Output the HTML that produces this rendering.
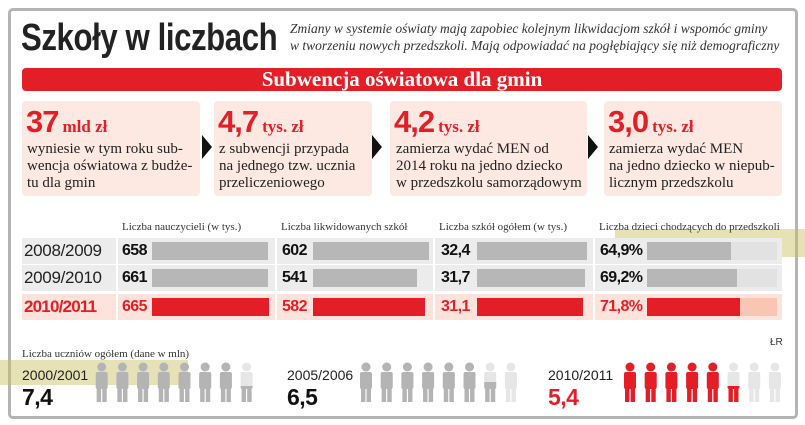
<!DOCTYPE html>
<html><head><meta charset="utf-8">
<style>
*{margin:0;padding:0;box-sizing:border-box}
body{width:805px;height:425px;background:#fff;position:relative;overflow:hidden;font-family:"Liberation Sans",sans-serif}
.a{position:absolute;white-space:nowrap}
.frame{left:8px;top:8px;width:790px;height:411px;border:3px solid #b4b4b4;border-radius:5px}
.box{background:#fde9e1;border-radius:4px;top:101px;height:95px}
.big{font-family:"Liberation Sans",sans-serif;font-weight:bold;color:#e41e26;font-size:31px;letter-spacing:-1px}
.unit{font-family:"Liberation Serif",serif;font-weight:bold;font-size:17px;color:#e41e26;letter-spacing:0;margin-left:4px}
.txt{font-family:"Liberation Serif",serif;font-size:15px;line-height:17px;color:#222}
.hdr{font-family:"Liberation Serif",serif;font-size:11px;color:#333}
.arrow{width:0;height:0;border-top:12px solid transparent;border-bottom:12px solid transparent;border-left:10px solid #111}
</style></head><body>
<div class="a frame"></div>
<div class="a" style="left:21px;top:17px;font-size:38px;font-weight:bold;color:#222;transform:scaleX(0.82);transform-origin:left top;letter-spacing:-0.5px">Szkoły w liczbach</div>
<div class="a" style="left:290px;top:20px;font-family:'Liberation Serif',serif;font-style:italic;font-size:13.5px;line-height:17px;color:#333">Zmiany w systemie oświaty mają zapobiec kolejnym likwidacjom szkół i wspomóc gminy<br>w tworzeniu nowych przedszkoli. Mają odpowiadać na pogłębiający się niż demograficzny</div>
<div class="a" style="left:22px;top:68px;width:760px;height:23px;background:#e41e26;border-radius:4px;color:#fff;font-family:'Liberation Serif',serif;font-weight:bold;font-size:21px;line-height:23px;text-align:center">Subwencja oświatowa dla gmin</div>

<div class="a box" style="left:22px;width:178px"></div>
<div class="a box" style="left:214px;width:158px"></div>
<div class="a box" style="left:390px;width:197px"></div>
<div class="a box" style="left:604px;width:178px"></div>
<div class="a arrow" style="left:202px;top:135px"></div>
<div class="a arrow" style="left:372px;top:135px"></div>
<div class="a arrow" style="left:588px;top:135px"></div>

<div class="a big" style="left:26px;top:104px">37<span class="unit">mld zł</span></div>
<div class="a txt" style="left:27px;top:141px">wyniesie w tym roku sub-<br>wencja oświatowa z budże-<br>tu dla gmin</div>
<div class="a big" style="left:218px;top:104px">4,7<span class="unit">tys. zł</span></div>
<div class="a txt" style="left:219px;top:141px">z subwencji przypada<br>na jednego tzw. ucznia<br>przeliczeniowego</div>
<div class="a big" style="left:394px;top:104px">4,2<span class="unit">tys. zł</span></div>
<div class="a txt" style="left:396px;top:141px">zamierza wydać MEN od<br>2014 roku na jedno dziecko<br>w przedszkolu samorządowym</div>
<div class="a big" style="left:608px;top:104px">3,0<span class="unit">tys. zł</span></div>
<div class="a txt" style="left:609px;top:141px">zamierza wydać MEN<br>na jedno dziecko w niepub-<br>licznym przedszkolu</div>

<div id="table"></div>
<div id="people"></div>

<div class="a hdr" style="left:22px;top:348px">Liczba uczniów ogółem (dane w mln)</div>
<div class="a hdr" style="left:770px;top:337px;font-family:'Liberation Sans',sans-serif;font-size:10px">ŁR</div>

<div class="a" style="left:615px;top:229px;width:190px;height:28px;background:rgba(200,190,90,0.45)"></div>
<div class="a" style="left:0;top:360px;width:188px;height:25px;background:rgba(200,190,90,0.45)"></div>

<script>
const years = ["2008/2009","2009/2010","2010/2011"];
const colTitles = ["Liczba nauczycieli (w tys.)","Liczba likwidowanych szkół","Liczba szkół ogółem (w tys.)","Liczba dzieci chodzących do przedszkoli"];
const teachers = [658,661,665];
const closedSchools = [602,541,582];
const totalSchools = [32.4,31.7,31.1];
const preschoolPct = [64.9,69.2,71.8];
const studentYears = ["2000/2001","2005/2006","2010/2011"];
const students = [7.4,6.5,5.4];

const body = document.body;
function el(tag, css, parent){const e=document.createElement(tag);e.className='a';e.style.cssText=css;(parent||body).appendChild(e);return e;}
const fmt = v => String(v).replace('.',',');
const rowTop=[238,265,294], rowH=26;
const cols=[{x:118,w:157,numX:122,barX:152,barMax:117,max:665,data:teachers,suf:''},
            {x:277,w:156,numX:282,barX:313,barMax:116,max:602,data:closedSchools,suf:''},
            {x:435,w:158,numX:441,barX:477,barMax:110,max:32.4,data:totalSchools,suf:''},
            {x:595,w:187,numX:600,barX:647,barMax:130,max:100,data:preschoolPct,suf:'%'}];
colTitles.forEach((t,i)=>{
  const h=el('div','left:'+(cols[i].x+4)+'px;top:221px;font-family:"Liberation Serif",serif;font-size:11px;color:#333');
  h.textContent=t;
  
  
});
years.forEach((y,r)=>{
  const red=r===2;
  const bg=red?'#fde3dc':'#ececec';
  const top=rowTop[r];
  const yc=el('div','left:22px;top:'+top+'px;width:94px;height:'+rowH+'px;background:'+bg+';font-size:17px;line-height:'+rowH+'px;padding-left:2px;color:'+(red?'#e41e26':'#222')+';'+(red?'font-weight:bold;letter-spacing:-0.8px;':'letter-spacing:-0.3px;'));
  yc.textContent=y;
  
  
  cols.forEach((c,ci)=>{
    const cell=el('div','left:'+c.x+'px;top:'+top+'px;width:'+c.w+'px;height:'+rowH+'px;background:'+bg);
    
    
    const v=c.data[r];
    const n=el('div','left:'+c.numX+'px;top:'+top+'px;line-height:'+rowH+'px;font-size:16px;font-weight:bold;letter-spacing:-0.6px;color:'+(red?'#e41e26':'#111'));
    n.textContent=fmt(v)+c.suf;
    
    
    if(ci===3){
      const tr=el('div','left:'+c.barX+'px;top:'+(top+4)+'px;width:'+c.barMax+'px;height:18px;background:'+(red?'#f9c6b4':'#e2e2e2'));
      
      
    }
    const b=el('div','left:'+c.barX+'px;top:'+(top+4)+'px;width:'+(v/c.max*c.barMax)+'px;height:18px;background:'+(red?'#e41e26':'#b7b7b8'));
    
    
  });
});

const groupX=[22,287,548], figStart=[101.7,366,630], sp=20.7;
const NS='http://www.w3.org/2000/svg';
const svg=document.createElementNS(NS,'svg');
svg.setAttribute('width','805');svg.setAttribute('height','425');
svg.style.cssText='position:absolute;left:0;top:0';


body.appendChild(svg);
function fig(cx,color){
  const g=document.createElementNS(NS,'g');
  const parts=[['circle',{cx:cx,cy:367,r:4.5}],['rect',{x:cx-6,y:372,width:12,height:17,rx:2}],['rect',{x:cx-5,y:386,width:4.4,height:16}],['rect',{x:cx+0.6,y:386,width:4.4,height:16}]];
  parts.forEach(p=>{const e=document.createElementNS(NS,p[0]);for(const k in p[1])e.setAttribute(k,p[1][k]);e.setAttribute('fill',color);g.appendChild(e);});
  return g;
}
students.forEach((v,gi)=>{
  const red=gi===2;
  const yl=el('div','left:'+groupX[gi]+'px;top:367px;font-size:14px;color:#222');
  yl.textContent=studentYears[gi];
  
  
  const vl=el('div','left:'+groupX[gi]+'px;top:384px;font-size:23px;font-weight:bold;letter-spacing:-0.5px;color:'+(red?'#e41e26':'#111'));
  vl.textContent=fmt(v);
  
  
  const col=red?'#e41e26':'#b4b4b4';
  for(let i=0;i<8;i++){
    const cx=figStart[gi]+i*sp;
    const frac=Math.max(0,Math.min(1,v-i));
    const bgF=fig(cx,'#e6e6e6');
    
    
    svg.appendChild(bgF);
    if(frac>0){
      const cp=document.createElementNS(NS,'clipPath');
      cp.setAttribute('id','c'+gi+'_'+i);
      const r=document.createElementNS(NS,'rect');
      const h=40*frac;
      r.setAttribute('x',cx-8);r.setAttribute('y',402-h);r.setAttribute('width',16);r.setAttribute('height',h);
      cp.appendChild(r);svg.appendChild(cp);
      const f=fig(cx,col);
      f.setAttribute('clip-path','url(#c'+gi+'_'+i+')');
      
      
      svg.appendChild(f);
    }
  }
});
</script>
</body></html>
